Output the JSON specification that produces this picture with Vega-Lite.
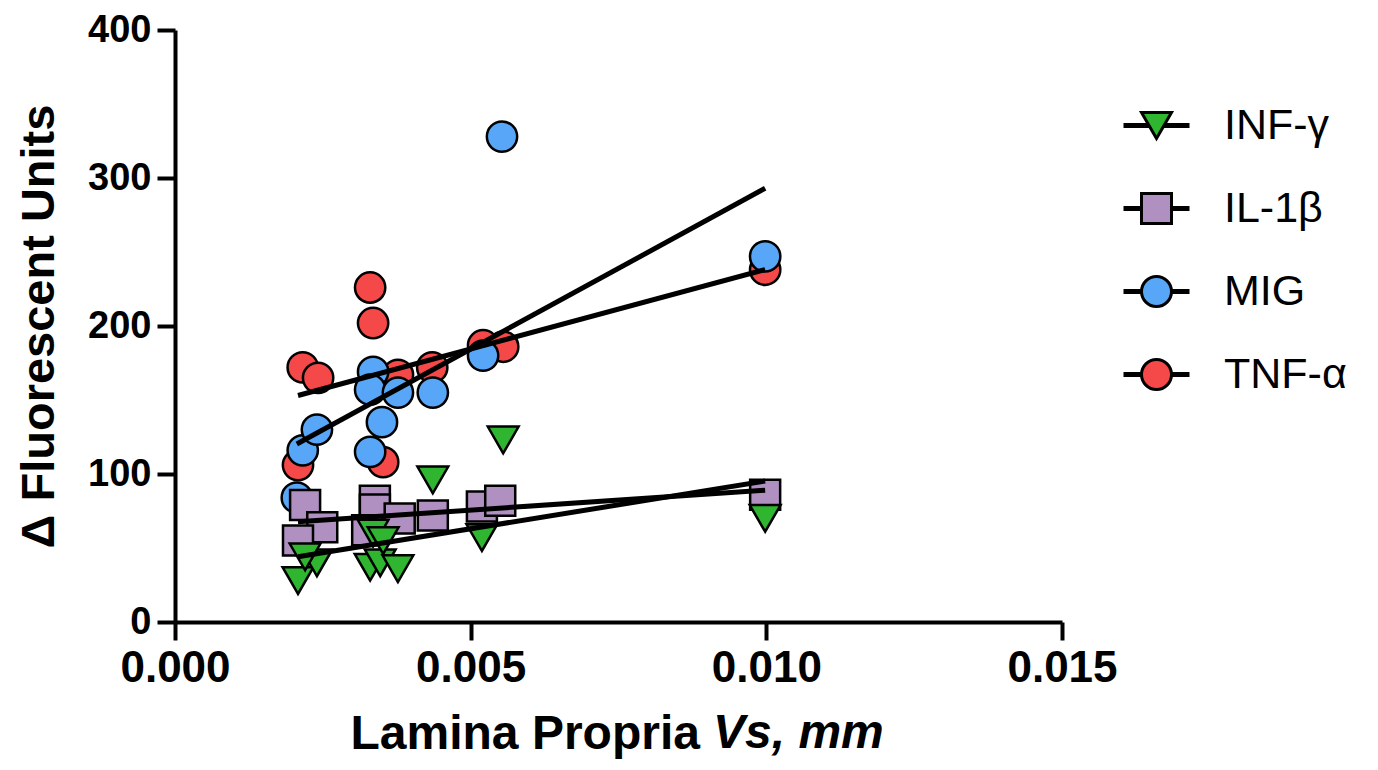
{
  "$schema": "https://vega.github.io/schema/vega-lite/v6.json",
  "width": 887,
  "height": 592,
  "autosize": {"type": "none"},
  "padding": {"left": 175, "top": 30, "right": 316, "bottom": 148},
  "background": "white",
  "title": {
    "text": "Vs, mm",
    "orient": "bottom",
    "anchor": "start",
    "frame": "group",
    "dx": 538,
    "offset": -48,
    "font": "Liberation Sans",
    "fontSize": 48,
    "fontStyle": "italic",
    "fontWeight": "bold",
    "color": "black"
  },
  "config": {
    "view": {"stroke": null},
    "font": "Liberation Sans",
    "axis": {
      "grid": false,
      "domainColor": "black",
      "domainWidth": 4,
      "tickColor": "black",
      "tickWidth": 4,
      "tickSize": 18,
      "labelFont": "Liberation Sans",
      "labelFontWeight": "bold",
      "labelColor": "black",
      "labelFlush": false,
      "titleFont": "Liberation Sans",
      "titleFontWeight": "bold",
      "titleColor": "black"
    },
    "legend": {
      "symbolStrokeColor": "black",
      "symbolStrokeWidth": 3,
      "symbolOpacity": 1
    }
  },
  "datasets": {
    "pts": [
      {"series": "TNF-α", "x": 0.00208, "y": 106},
      {"series": "TNF-α", "x": 0.00216, "y": 172},
      {"series": "TNF-α", "x": 0.00242, "y": 165},
      {"series": "TNF-α", "x": 0.00330, "y": 226},
      {"series": "TNF-α", "x": 0.00335, "y": 202},
      {"series": "TNF-α", "x": 0.00352, "y": 108},
      {"series": "TNF-α", "x": 0.00377, "y": 167},
      {"series": "TNF-α", "x": 0.00435, "y": 172},
      {"series": "TNF-α", "x": 0.00521, "y": 187},
      {"series": "TNF-α", "x": 0.00555, "y": 186},
      {"series": "TNF-α", "x": 0.00998, "y": 238},
      {"series": "MIG", "x": 0.00206, "y": 84},
      {"series": "MIG", "x": 0.00216, "y": 116},
      {"series": "MIG", "x": 0.00240, "y": 130},
      {"series": "MIG", "x": 0.00335, "y": 169},
      {"series": "MIG", "x": 0.00330, "y": 157},
      {"series": "MIG", "x": 0.00330, "y": 115},
      {"series": "MIG", "x": 0.00350, "y": 135},
      {"series": "MIG", "x": 0.00377, "y": 155},
      {"series": "MIG", "x": 0.00436, "y": 155},
      {"series": "MIG", "x": 0.00521, "y": 180},
      {"series": "MIG", "x": 0.00553, "y": 328},
      {"series": "MIG", "x": 0.00998, "y": 247},
      {"series": "IL-1β", "x": 0.00220, "y": 79},
      {"series": "IL-1β", "x": 0.00249, "y": 64},
      {"series": "IL-1β", "x": 0.00208, "y": 55},
      {"series": "IL-1β", "x": 0.00338, "y": 82},
      {"series": "IL-1β", "x": 0.00338, "y": 76},
      {"series": "IL-1β", "x": 0.00325, "y": 62},
      {"series": "IL-1β", "x": 0.00380, "y": 70},
      {"series": "IL-1β", "x": 0.00436, "y": 72},
      {"series": "IL-1β", "x": 0.00519, "y": 78},
      {"series": "IL-1β", "x": 0.00550, "y": 82},
      {"series": "IL-1β", "x": 0.00998, "y": 86},
      {"series": "INF-γ", "x": 0.00208, "y": 28},
      {"series": "INF-γ", "x": 0.00240, "y": 40},
      {"series": "INF-γ", "x": 0.00220, "y": 44},
      {"series": "INF-γ", "x": 0.00335, "y": 60},
      {"series": "INF-γ", "x": 0.00330, "y": 37},
      {"series": "INF-γ", "x": 0.00347, "y": 40},
      {"series": "INF-γ", "x": 0.00352, "y": 55},
      {"series": "INF-γ", "x": 0.00377, "y": 36},
      {"series": "INF-γ", "x": 0.00436, "y": 96},
      {"series": "INF-γ", "x": 0.00519, "y": 57},
      {"series": "INF-γ", "x": 0.00555, "y": 123},
      {"series": "INF-γ", "x": 0.00998, "y": 70}
    ]
  },
  "encoding": {
    "x": {
      "field": "x", "type": "quantitative",
      "scale": {"domain": [0, 0.015], "nice": false, "zero": false},
      "axis": {"values": [0, 0.005, 0.01, 0.015], "format": ".3f", "labelFontSize": 44, "labelPadding": 6, "title": "Lamina Propria", "titleFontSize": 48, "titleAlign": "left", "titleX": 175, "titlePadding": 20}
    },
    "y": {
      "field": "y", "type": "quantitative",
      "scale": {"domain": [0, 400], "nice": false},
      "axis": {"values": [0, 100, 200, 300, 400], "labelFontSize": 38, "labelPadding": 6, "title": "Δ Fluorescent Units", "titleFontSize": 47, "titlePadding": 24}
    }
  },
  "layer": [
    {
      "data": {"name": "pts"},
      "transform": [{"filter": {"field": "series", "equal": "TNF-α"}}],
      "mark": {"type": "point", "shape": "circle", "filled": true, "fill": "#f54848", "size": 920, "stroke": "black", "strokeWidth": 2.5, "opacity": 1}
    },
    {
      "data": {"name": "pts"},
      "transform": [{"filter": {"field": "series", "equal": "MIG"}}],
      "mark": {"type": "point", "shape": "circle", "filled": true, "fill": "#58a6f7", "size": 920, "stroke": "black", "strokeWidth": 2.5, "opacity": 1}
    },
    {
      "data": {"name": "pts"},
      "transform": [{"filter": {"field": "series", "equal": "IL-1β"}}],
      "mark": {"type": "point", "shape": "square", "filled": true, "fill": "#b08fc1", "size": 900, "stroke": "black", "strokeWidth": 2.5, "opacity": 1}
    },
    {
      "data": {"name": "pts"},
      "transform": [{"filter": {"field": "series", "equal": "INF-γ"}}],
      "mark": {"type": "point", "shape": "triangle-down", "filled": true, "fill": "#2fb52f", "size": 950, "stroke": "black", "strokeWidth": 2.5, "opacity": 1}
    },
    {
      "data": {"name": "pts"},
      "transform": [{"regression": "y", "on": "x", "groupby": ["series"]}],
      "mark": {"type": "line", "color": "black", "strokeWidth": 5},
      "encoding": {
        "detail": {"field": "series", "type": "nominal"}
      }
    },
    {
      "data": {"values": []},
      "mark": {"type": "point", "filled": false, "size": 900, "stroke": "black", "strokeWidth": 3, "opacity": 1},
      "encoding": {
        "x": null,
        "y": null,
        "shape": {
          "field": "label", "type": "nominal",
          "scale": {"domain": ["INF-γ", "IL-1β", "MIG", "TNF-α"], "range": [
            "M-2.2,-0.07H-0.55M-2.2,0.07H-0.5M0.55,-0.07H2.2M0.5,0.07H2.2M0,0.866L-1,-0.866L1,-0.866Z",
            "M-2.2,-0.07H-1M-2.2,0.07H-1M1,-0.07H2.2M1,0.07H2.2M-1,-1H1V1H-1Z",
            "M-2.2,-0.07H-1M-2.2,0.07H-1M1,-0.07H2.2M1,0.07H2.2M1,0A1,1 0 1,1 -1,0A1,1 0 1,1 1,0Z",
            "M-2.2,-0.07H-1M-2.2,0.07H-1M1,-0.07H2.2M1,0.07H2.2M1,0A1,1 0 1,1 -1,0A1,1 0 1,1 1,0Z"
          ]},
          "legend": {
            "title": null,
            "orient": "none",
            "legendX": 960,
            "legendY": 74,
            "padding": 0,
            "symbolSize": 900,
            "labelFont": "Liberation Sans",
            "labelFontSize": 43,
            "labelColor": "black",
            "labelOffset": 46,
            "rowPadding": 39,
            "encode": {
              "symbols": {"update": {"stroke": {"value": "black"}, "strokeWidth": {"value": 3}, "opacity": {"value": 1}, "strokeOpacity": {"value": 1}}}
            }
          }
        },
        "fill": {
          "field": "label", "type": "nominal",
          "scale": {"domain": ["INF-γ", "IL-1β", "MIG", "TNF-α"], "range": ["#2fb52f", "#b08fc1", "#58a6f7", "#f54848"]},
          "legend": {
            "title": null,
            "orient": "none",
            "legendX": 960,
            "legendY": 74,
            "padding": 0,
            "symbolSize": 900,
            "labelFont": "Liberation Sans",
            "labelFontSize": 43,
            "labelColor": "black",
            "labelOffset": 46,
            "rowPadding": 39,
            "encode": {
              "symbols": {"update": {"stroke": {"value": "black"}, "strokeWidth": {"value": 3}, "opacity": {"value": 1}, "strokeOpacity": {"value": 1}}}
            }
          }
        }
      }
    }
  ]
}
